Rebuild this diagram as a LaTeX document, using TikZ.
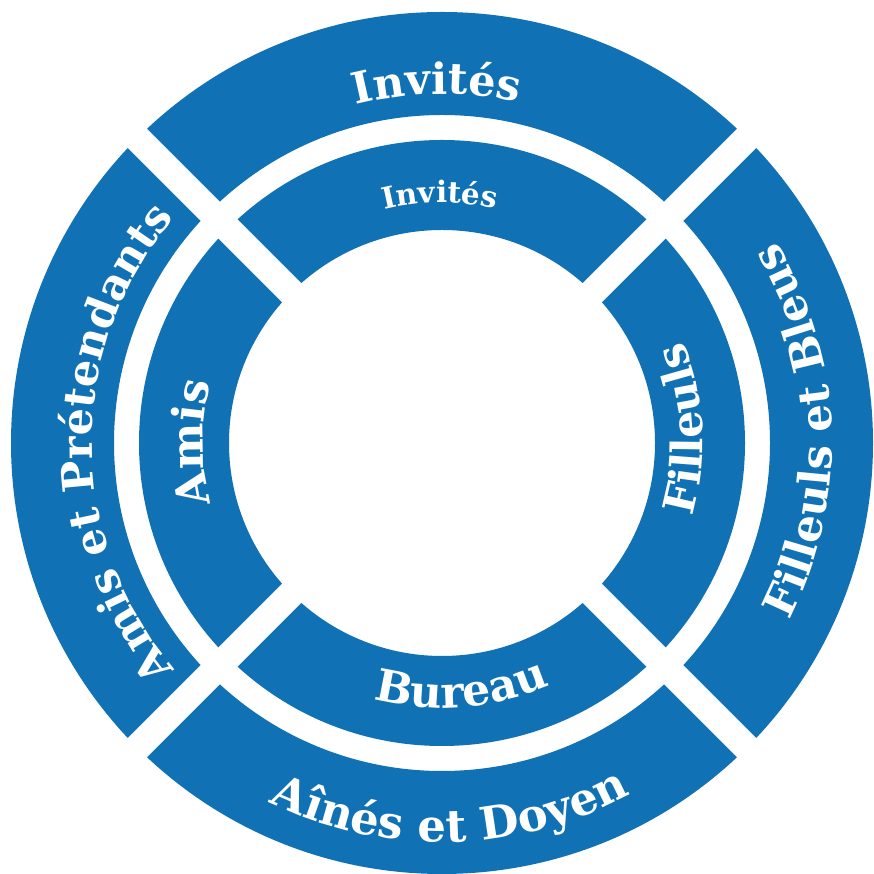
\documentclass[tikz,border=0pt]{standalone}
\usepackage{fontspec}
\setmainfont{DejaVu Serif}
\usetikzlibrary{decorations.text,calc}
\definecolor{segblue}{RGB}{16,114,181}
\newcommand\segtext[5]{%
  \path[decorate,decoration={text along path,text align=center,
    text={|\color{white}\fontsize{#4}{#4}\selectfont\bfseries|#5}}]
    ($(c)+(#2:#1)$) arc[start angle=#2,end angle=#3,radius=#1];}
\begin{document}
\begin{tikzpicture}[x=1pt,y=1pt]
\useasboundingbox (0,0) rectangle (874,874);
\coordinate (c) at (442,431);
% rings
\fill[segblue,even odd rule] (c) circle[radius=431] (c) circle[radius=328];
\fill[segblue,even odd rule] (c) circle[radius=303] (c) circle[radius=213];
% diagonal gaps
\draw[white,line width=27] ($(c)+(45:460)$) -- ($(c)+(225:460)$);
\draw[white,line width=27] ($(c)+(135:460)$) -- ($(c)+(315:460)$);
% outer labels
\segtext{349}{150.8}{30.8}{43}{Invités}
\segtext{350}{240}{120}{43}{Amis et Prétendants}
\segtext{390}{-58}{62}{43.5}{Filleuls et Bleus}
\segtext{399}{221.3}{321.3}{45}{Aînés et Doyen}
% inner labels
\segtext{240}{150.5}{30.5}{29.5}{Invités}
\segtext{239}{240}{120}{44}{Amis}
\segtext{261}{-56.7}{63.3}{43}{Filleuls}
\segtext{265}{214.5}{334.5}{44}{Bureau}
\end{tikzpicture}
\end{document}
